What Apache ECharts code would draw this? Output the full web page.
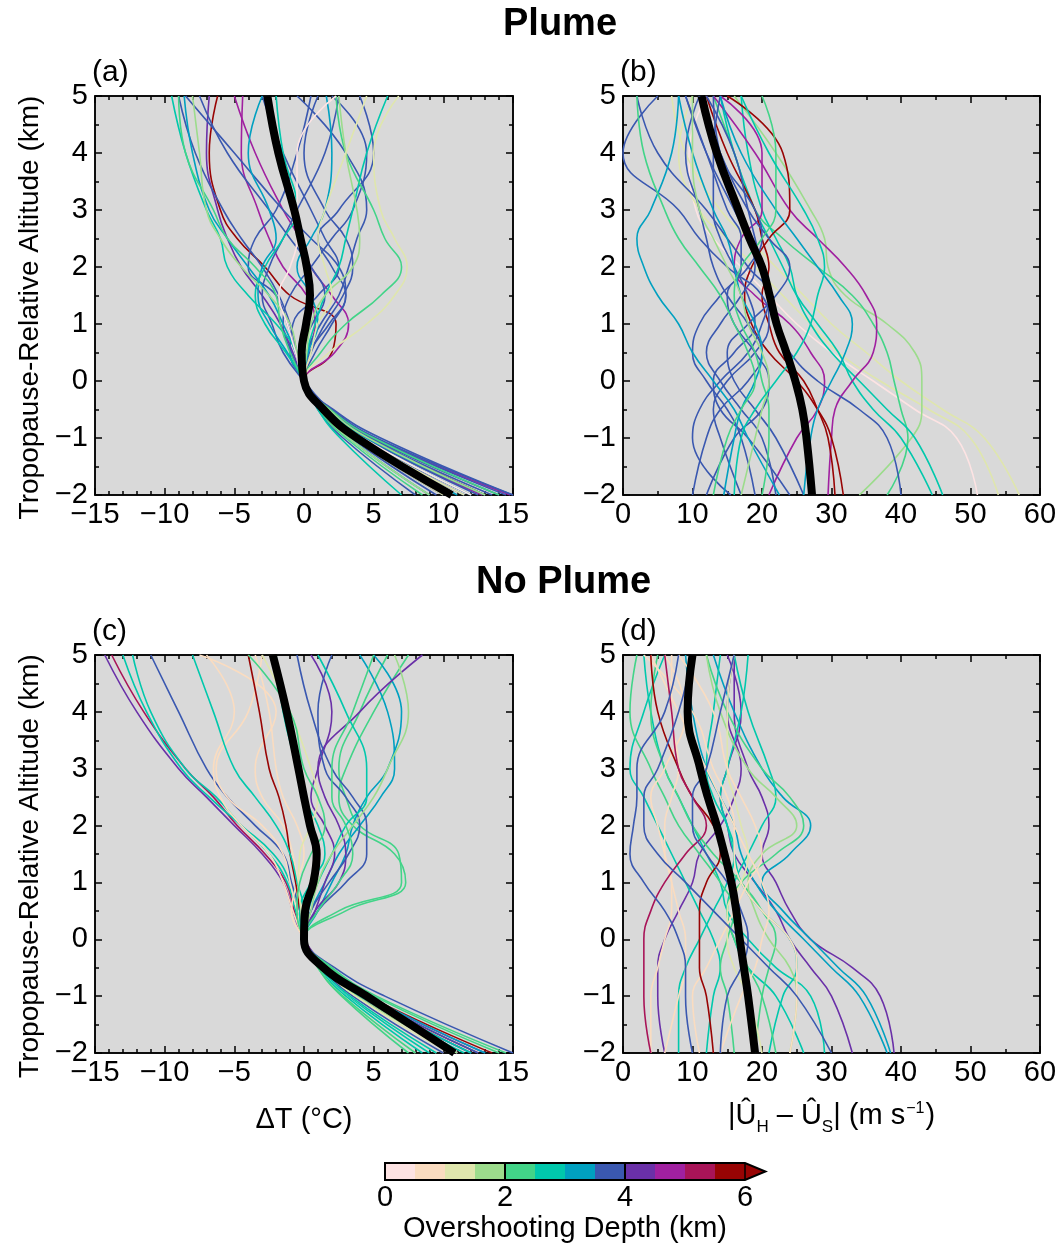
<!DOCTYPE html>
<html>
<head>
<meta charset="utf-8">
<script src="https://cdn.jsdelivr.net/npm/echarts@6/dist/echarts.min.js"></script>
<style>html,body{margin:0;padding:0;background:#fff}#c{width:1063px;height:1244px}</style>
</head>
<body>
<div id="c"></div>
<script>
// Tropopause-relative altitude levels (km) at which each profile is sampled
const LEVELS = [-2, -1, -0.5, 0, 0.5, 1, 1.5, 2, 2.5, 3, 4, 5];

// Overshooting depth colour bins (km)
const DEPTH_EDGES = [0, 0.5, 1, 1.5, 2, 2.5, 3, 3.5, 4, 4.5, 5, 5.5, 6];
const DEPTH_COLORS = ['#fde3e3', '#fadcc0', '#dfe6ad', '#9cdc8c', '#42d488', '#00c8ac',
                      '#00a0c0', '#3a58b0', '#6a30a8', '#a020a0', '#a81458', '#980404'];
const DEPTH_TICKS = [0, 2, 4, 6];

// (a) Plume, delta T
const PLUME_DT_MEAN = [10.6, 3.8, 1.4, 0, -0.17, 0.15, 0.43, 0.2, -0.25, -0.7, -1.84, -2.63];
const PLUME_DT_BIN = [11, 9, 9, 8, 7, 7, 7, 7, 7, 7, 7, 7, 7, 7, 6, 6, 6, 5, 5, 5, 4, 4, 3, 3, 2, 2, 0];
const PLUME_DT = [
  [13, 4.6, 1.6, 0, 2.0, 2.3, -1.0, -2.8, -4.8, -6.0, -6.8, -6.2],
  [12.8, 4.3, 1.7, 0, 2.2, 3.2, 2.0, 0.5, -0.3, -1.5, -3.5, -5.0],
  [14.8, 5.0, 1.9, 0, 0.3, 0.8, 0.2, -1.5, -2.5, -3.3, -4.5, -4.4],
  [12, 4.0, 1.5, 0, -0.8, -1.7, -3.0, -4.5, -5.5, -6.2, -7.0, -6.8],
  [15, 5.2, 2.0, 0, -0.5, -1.0, -1.8, -3.0, -4.5, -5.8, -7.8, -9.0],
  [14.5, 5.0, 1.9, 0, -1.5, -2.3, -3.0, -2.5, -1.5, -0.5, 1.5, 2.5],
  [14, 4.8, 1.8, 0, 0.5, 1.5, 2.8, 3.5, 3.0, 1.5, 0.0, 1.0],
  [13.5, 4.6, 1.7, 0, 0.8, 2.0, 3.0, 2.0, 1.0, 2.5, 5.0, 4.0],
  [11.5, 4.0, 1.5, 0, 0.2, 1.2, 2.5, 3.2, 3.8, 4.5, 3.0, -0.5],
  [9.5, 3.4, 1.2, 0, -0.6, -1.2, -2.0, -4.0, -3.5, -2.0, -0.5, 0.5],
  [8, 2.8, 1.0, 0, -1.0, -0.8, 1.0, 2.5, 1.5, 0.5, -1.5, -3.0],
  [15, 5.5, 2.1, 0, 0.4, 1.8, 3.0, 2.5, 0.5, -1.5, -5.0, -8.5],
  [12.5, 4.4, 1.6, 0, -0.3, 0.6, 1.5, 0.5, -1.0, -2.5, -5.5, -7.5],
  [10, 3.5, 1.3, 0, -0.9, -1.5, -1.0, 0.5, 2.0, 3.5, 4.5, 2.0],
  [9, 3.2, 1.2, 0, -1.2, -2.5, -3.3, -3.0, -2.0, -2.5, -4.0, -3.0],
  [13, 4.5, 1.7, 0, -0.6, -1.5, -2.5, -4.0, -5.5, -6.8, -8.0, -8.6],
  [11, 3.9, 1.4, 0, 0.3, 1.0, 0.5, -0.5, 0.5, 1.5, 2.0, 1.6],
  [7, 2.6, 1.0, 0, -1.3, -2.8, -3.5, -2.8, -1.5, -0.5, -1.5, -2.0],
  [12, 4.2, 1.6, 0, 0.2, 0.8, 1.5, 2.5, 3.0, 3.5, 4.5, 6.0],
  [10.5, 3.6, 1.3, 0, -0.5, -2.0, -4.0, -5.5, -6.0, -7.0, -8.5, -9.5],
  [14, 5.0, 1.9, 0, 1.2, 3.0, 5.5, 7.0, 5.8, 5.0, 3.0, 2.3],
  [8.5, 3.0, 1.1, 0, -1.0, -1.7, -2.0, -3.5, -5.5, -6.5, -8.5, -9.0],
  [13, 4.6, 1.8, 0, 0.2, 0.5, 1.5, 3.5, 4.0, 3.8, 3.0, 2.5],
  [9, 3.2, 1.2, 0, -0.5, -1.0, -2.5, -4.5, -6.0, -7.0, -7.5, -8.0],
  [11.5, 4.0, 1.5, 0, 1.8, 4.5, 6.5, 7.4, 6.5, 5.5, 5.0, 6.8],
  [10, 3.5, 1.3, 0, 0.5, 1.0, 2.0, 1.5, 1.0, 1.5, 3.0, 4.5],
  [12, 4.2, 1.5, 0, -0.6, -1.2, -1.8, -1.0, -0.5, -0.5, -0.5, 2.3]
];

// (b) Plume, wind shear magnitude
const PLUME_DU_MEAN = [27.2, 26.4, 25.8, 24.8, 23.5, 22.1, 21.1, 20.0, 18.2, 16.6, 13.5, 11.3];
const PLUME_DU_BIN = [0, 2, 2, 3, 4, 5, 5, 9, 9, 11, 11, 7, 7, 7, 7, 7, 7, 7, 7, 7, 6, 6, 6, 4, 4, 3, 5];
const PLUME_DU = [
  [51, 48, 42, 36, 30, 25, 21, 17, 13, 10.5, 9.5, 12],
  [54, 50, 44, 37, 31, 27, 23, 19, 15, 11, 8, 10],
  [57, 52, 46, 40, 35, 30, 26, 22, 18, 14, 9, 7],
  [34, 41.5, 43, 43, 42, 38, 32, 29.5, 29, 27, 22, 16],
  [38, 41, 40, 39, 38, 36, 33, 28, 23, 19, 16, 13],
  [44.5, 40, 36, 33, 31, 28, 25, 23, 21, 19, 16, 14],
  [46, 42, 38, 34, 30, 27, 25, 24, 22, 20, 18, 17],
  [29.5, 30, 30.5, 33, 36, 36.5, 35, 32, 28, 24, 19, 13],
  [21, 25, 28, 29, 27, 24, 19, 16, 17, 20, 20, 14],
  [31.7, 30, 28, 25, 21, 18.5, 17.5, 18.5, 21, 24, 23, 15],
  [30.5, 29.5, 28, 26, 22.5, 21, 20, 21, 20, 19, 15, 12],
  [10, 12, 14, 18, 20, 18, 15, 13, 12, 11, 9, 11],
  [15.5, 10, 11, 14, 18, 20, 21, 18, 15, 12, 5, 2],
  [19, 17, 15, 12, 10, 11, 14, 17, 17, 15, 12, 9],
  [26, 22, 19, 16, 15, 18, 22, 24, 21, 18, 14, 11],
  [40, 38, 34, 28, 24, 22, 21, 20, 19, 18, 16, 12],
  [24, 18, 14, 13, 16, 19, 18, 16, 14, 13, 13, 14],
  [12, 16, 20, 21, 19, 16, 15, 18, 20, 19, 14, 13],
  [17, 14, 13, 15, 19, 21, 20, 15, 11, 8, 0, 5],
  [22, 20, 17, 14, 12, 14, 17, 19, 18, 16, 12, 9],
  [22.5, 18, 16, 13, 10, 8, 5, 3, 2, 4, 7, 8],
  [26, 27, 28, 30, 32, 33, 31, 28, 25, 22, 17, 14],
  [14.5, 16, 17, 19, 20, 19, 17, 16, 15, 13, 10, 8],
  [13, 15, 17, 19, 18, 16, 14, 11, 8, 6, 3, 2],
  [20, 21, 21, 20, 19, 17, 16, 17, 20, 22, 22, 20],
  [17, 19, 20, 21, 20, 18, 17, 15, 13, 11, 10, 10],
  [16, 17, 19, 22, 25, 27, 28, 29, 28, 26, 21, 17]
];

// (c) No plume, delta T
const NOPLUME_DT_MEAN = [10.8, 4.5, 1.4, 0, 0.08, 0.67, 0.91, 0.43, 0.0, -0.4, -1.24, -2.24];
const NOPLUME_DT_BIN = [8, 10, 5, 5, 7, 1, 1, 1, 1, 11, 4, 4, 6, 6, 8, 8, 7, 7, 5, 5, 5, 3, 2, 4, 4];
const NOPLUME_DT = [
  [13, 4.5, 1.7, 0, -0.8, -1.5, -3.0, -5.0, -7.0, -9.0, -12.0, -14.3],
  [12.5, 4.3, 1.6, 0, -0.7, -1.3, -2.8, -4.8, -6.5, -8.5, -11.5, -13.8],
  [9, 3.2, 1.2, 0, -0.6, -1.2, -2.5, -4.5, -6.3, -8.5, -11.0, -12.3],
  [8.5, 3.0, 1.1, 0, -0.5, -1.0, -2.2, -4.5, -6.8, -8.8, -11.3, -13.0],
  [15, 5.8, 2.2, 0, -0.3, -0.9, -1.5, -3.5, -5.5, -7.0, -9.0, -11.0],
  [9.5, 3.3, 1.2, 0, -0.8, -1.5, -2.5, -4.5, -6.0, -6.5, -5.0, -7.0],
  [10, 3.5, 1.3, 0, -0.5, -1.0, -1.5, -3.0, -5.5, -6.3, -4.0, -3.0],
  [11, 3.8, 1.4, 0, -0.3, -0.5, -0.8, -1.5, -3.0, -3.5, -2.0, -7.5],
  [8, 2.8, 1.0, 0, -0.9, -0.5, 0.0, -0.5, -1.5, -2.0, -2.5, -3.5],
  [13.5, 4.6, 1.7, 0, -0.3, -0.6, -1.0, -1.3, -1.8, -2.5, -3.2, -4.0],
  [14.5, 5.2, 2.0, 0, 3.0, 7.3, 6.5, 3.5, 2.5, 3.0, 5.0, 7.5],
  [14, 5.0, 1.9, 0, 2.5, 7.0, 6.8, 4.0, 3.0, 2.5, 4.0, 6.0],
  [13, 4.6, 1.7, 0, 1.0, 2.0, 3.0, 3.5, 4.5, 6.0, 7.0, 5.0],
  [12, 4.2, 1.6, 0, 0.5, 1.5, 2.5, 4.0, 5.5, 6.5, 6.0, 4.0],
  [11, 3.9, 1.5, 0, 0.8, 2.5, 3.0, 2.5, 1.5, 1.0, 4.0, 8.5],
  [12, 4.2, 1.6, 0, 0.8, 1.5, 2.2, 1.5, 0.5, 1.0, 2.0, 0.5],
  [12.5, 4.4, 1.6, 0, 1.0, 3.0, 4.5, 4.5, 3.5, 2.0, 0.5, -0.5],
  [10, 3.5, 1.3, 0, 0.5, 1.8, 3.2, 4.0, 3.0, 1.5, 1.0, 2.0],
  [11.5, 4.0, 1.5, 0, 0.0, -0.5, -1.0, -2.0, -3.5, -5.0, -6.5, -8.0],
  [9.5, 3.3, 1.2, 0, -0.3, 0.5, 1.5, 1.0, 0.0, -0.5, -1.5, -2.0],
  [12, 4.2, 1.6, 0, 0.3, 1.0, 2.0, 3.0, 4.5, 4.5, 3.0, 1.0],
  [11, 3.8, 1.4, 0, 0.5, 1.0, 2.0, 3.5, 5.0, 6.0, 7.5, 6.5],
  [10.5, 3.7, 1.4, 0, -0.2, -0.4, -0.3, 0.5, 1.0, 0.5, -1.0, -3.0],
  [8, 2.8, 1.0, 0, -0.5, -0.3, 0.5, 1.5, 1.0, 0.0, -1.0, -4.0],
  [7.5, 2.7, 1.0, 0, 1.0, 2.5, 3.5, 3.0, 2.0, 2.0, 3.5, 5.0]
];

// (d) No plume, wind shear magnitude
const NOPLUME_DU_MEAN = [19.0, 18.0, 17.4, 16.8, 16.3, 15.6, 14.6, 13.5, 12.2, 11.1, 9.3, 10.0];
const NOPLUME_DU_BIN = [8, 8, 8, 6, 6, 5, 5, 5, 5, 5, 4, 4, 4, 3, 2, 1, 1, 1, 1, 1, 11, 10, 7, 7, 7];
const NOPLUME_DU = [
  [39, 37, 33, 27, 24, 22, 20, 21, 20, 18, 16, 16],
  [33, 30, 27, 24, 22, 19, 16, 15, 14, 15, 17, 15],
  [6, 5, 5, 6, 8, 10, 11, 14, 16, 17, 15, 16],
  [38.5, 35, 31, 27, 23, 20, 24, 27, 23, 20, 16, 13],
  [38, 34, 30, 26, 22, 19, 17, 16, 14, 12, 10, 9],
  [29, 27, 22, 18, 15, 14, 12, 10, 8, 6, 4, 3],
  [8, 8, 9, 11, 13, 15, 16, 15, 13, 12, 13, 14],
  [21, 23, 25, 24, 20, 17, 16, 15, 14, 15, 17, 18],
  [12, 13, 14, 13, 11, 9, 7, 5, 3, 1, 3, 6],
  [26, 22, 18, 16, 15, 16, 18, 20, 22, 21, 18, 16],
  [22, 20, 18, 16, 15, 17, 22, 26, 24, 20, 15, 12],
  [19, 20, 21, 22, 20, 17, 13, 10, 8, 6, 4, 5],
  [16, 15, 14, 15, 16, 14, 11, 8, 6, 4, 1, 2],
  [24, 25, 24, 21, 19, 18, 20, 25, 22, 18, 14, 12],
  [20, 18, 16, 15, 15, 17, 18, 17, 16, 15, 15, 16],
  [6, 8, 9, 9, 8, 7, 6, 5, 4, 6, 9, 6],
  [11, 10, 12, 14, 16, 18, 20, 19, 17, 15, 13, 8],
  [24, 25, 25, 24, 20, 17, 16, 16, 15, 13, 10, 3],
  [14, 17, 19, 20, 21, 20, 18, 16, 14, 12, 8, 4],
  [4, 4, 5, 6, 7, 7, 6, 6, 7, 8, 7, 7],
  [13, 12, 11, 11, 11, 12, 14, 13, 10, 8, 5, 4],
  [4, 3, 3, 3, 4, 6, 9, 12, 10, 8, 7, 6],
  [30, 25, 21, 17, 13, 9, 5, 3, 3, 5, 8, 10],
  [10, 9, 9, 8, 6, 3, 1, 1.5, 2, 2, 6, 8],
  [14, 15, 17, 18, 17, 15, 12, 10, 10, 12, 14, 16]
];

const FONT = 'Liberation Sans';
const FS = 29;
const minus = v => String(v).replace('-', '\u2212');

const panels = [
  {left: 95, top: 96, width: 418, height: 399, xmin: -15, xmax: 15, xint: 5, xminor: 5,
   mean: PLUME_DT_MEAN, prof: PLUME_DT, bins: PLUME_DT_BIN, label: '(a)', xname: null, yname: true},
  {left: 623, top: 96, width: 417, height: 399, xmin: 0, xmax: 60, xint: 10, xminor: 2,
   mean: PLUME_DU_MEAN, prof: PLUME_DU, bins: PLUME_DU_BIN, label: '(b)', xname: null, yname: false},
  {left: 95, top: 655, width: 418, height: 398, xmin: -15, xmax: 15, xint: 5, xminor: 5,
   mean: NOPLUME_DT_MEAN, prof: NOPLUME_DT, bins: NOPLUME_DT_BIN, label: '(c)', xname: 'dt', yname: true},
  {left: 623, top: 655, width: 417, height: 398, xmin: 0, xmax: 60, xint: 10, xminor: 2,
   mean: NOPLUME_DU_MEAN, prof: NOPLUME_DU, bins: NOPLUME_DU_BIN, label: '(d)', xname: 'du', yname: false}
];

const grids = [], xAxes = [], yAxes = [], series = [], graphics = [];
const tickCommon = {inside: true, length: 7, lineStyle: {color: '#000', width: 1.5}};
const minorCommon = {show: true, length: 4, lineStyle: {color: '#000', width: 1.5}};
const lineCommon = {show: true, onZero: false, lineStyle: {color: '#000', width: 1.5}};

panels.forEach((p, i) => {
  grids.push({left: p.left, top: p.top, width: p.width, height: p.height, show: true,
    backgroundColor: '#d9d9d9', borderColor: '#000', borderWidth: 1.5, containLabel: false});
  const xBase = {type: 'value', gridIndex: i, min: p.xmin, max: p.xmax, interval: p.xint,
    axisLine: lineCommon, splitLine: {show: false},
    axisTick: tickCommon, minorTick: Object.assign({splitNumber: p.xminor}, minorCommon)};
  const xb = Object.assign({}, xBase, {position: 'bottom',
    axisLabel: {show: true, color: '#000', fontFamily: FONT, fontSize: FS, margin: 5, formatter: minus}});
  if (p.xname === 'dt') {
    Object.assign(xb, {name: '\u0394T (\u00B0C)', nameLocation: 'middle', nameGap: 52,
      nameTextStyle: {color: '#000', fontFamily: FONT, fontSize: FS}});
  } else if (p.xname === 'du') {
    Object.assign(xb, {name: '{t||\u00DB}{s|H}{t| \u2013 \u00DB}{s|S}{t|| (m s}{p|\u22121}{t|)}',
      nameLocation: 'middle', nameGap: 48,
      nameTextStyle: {color: '#000', fontFamily: FONT, fontSize: FS,
        rich: {
          t: {fontFamily: FONT, fontSize: FS, color: '#000', verticalAlign: 'top', lineHeight: 34},
          s: {fontFamily: FONT, fontSize: 17, color: '#000', verticalAlign: 'top', lineHeight: 34, padding: [18, 0, 0, 0]},
          p: {fontFamily: FONT, fontSize: 16, color: '#000', verticalAlign: 'top', lineHeight: 34, padding: [0, 1, 0, 1]}
        }}});
  }
  xAxes.push(xb);
  xAxes.push(Object.assign({}, xBase, {position: 'top', axisLabel: {show: false}}));
  const yBase = {type: 'value', gridIndex: i, min: -2, max: 5, interval: 1,
    axisLine: lineCommon, splitLine: {show: false},
    axisTick: tickCommon, minorTick: Object.assign({splitNumber: 2}, minorCommon)};
  yAxes.push(Object.assign({}, yBase, {position: 'left',
    axisLabel: {show: true, color: '#000', fontFamily: FONT, fontSize: FS, margin: 7, formatter: minus}}));
  yAxes.push(Object.assign({}, yBase, {position: 'right', axisLabel: {show: false}}));

  p.prof.forEach((xs, k) => {
    series.push({type: 'line', xAxisIndex: 2 * i, yAxisIndex: 2 * i, smooth: 0.45,
      symbol: 'none', silent: true, animation: false, clip: true,
      lineStyle: {color: DEPTH_COLORS[p.bins[k]], width: 1.6},
      data: xs.map((x, j) => [x, LEVELS[j]])});
  });
  series.push({type: 'line', xAxisIndex: 2 * i, yAxisIndex: 2 * i, smooth: 0.45,
    symbol: 'none', silent: true, animation: false, clip: true, z: 5,
    lineStyle: {color: '#000', width: 8, cap: 'butt'},
    data: p.mean.map((x, j) => [x, LEVELS[j]])});

  graphics.push({type: 'text', left: p.left - 3, top: p.top - 38,
    style: {text: p.label, fontFamily: FONT, fontSize: 30, fill: '#000'}});
  if (p.yname) {
    graphics.push({type: 'text', x: 30, y: p.top + p.height / 2 + 12, rotation: Math.PI / 2,
      style: {text: 'Tropopause-Relative Altitude (km)', fontFamily: FONT, fontSize: 28, fill: '#000',
        align: 'center', verticalAlign: 'middle'}});
  }
});

// colour bar grid
const cbIdx = panels.length;
grids.push({left: 385, top: 1163, width: 360, height: 19, show: false});
xAxes.push({type: 'value', gridIndex: cbIdx, min: 0, max: 6, interval: 2,
  axisLine: {show: false}, axisTick: {show: false}, splitLine: {show: false},
  axisLabel: {show: true, color: '#000', fontFamily: FONT, fontSize: FS, margin: 3,
    formatter: v => DEPTH_TICKS.indexOf(v) >= 0 ? String(v) : ''},
  name: 'Overshooting Depth (km)', nameLocation: 'middle', nameGap: 34,
  nameTextStyle: {color: '#000', fontFamily: FONT, fontSize: FS}});
yAxes.push({type: 'value', gridIndex: cbIdx, min: 0, max: 1, show: false});
const cbX = xAxes.length - 1, cbY = yAxes.length - 1;

const binData = DEPTH_COLORS.map((c, k) => [DEPTH_EDGES[k], DEPTH_EDGES[k + 1], k]);
series.push({type: 'custom', coordinateSystem: 'cartesian2d', xAxisIndex: cbX, yAxisIndex: cbY,
  silent: true, animation: false, data: binData,
  renderItem: (params, api) => {
    const a = api.coord([api.value(0), 1]);
    const b = api.coord([api.value(1), 0]);
    return {type: 'rect', shape: {x: a[0], y: a[1], width: b[0] - a[0] + 0.5, height: b[1] - a[1]},
      style: {fill: DEPTH_COLORS[api.value(2)]}};
  }});
// extension triangle, outline and dividers
series.push({type: 'custom', coordinateSystem: 'cartesian2d', xAxisIndex: cbX, yAxisIndex: cbY,
  silent: true, animation: false, clip: false, z: 6, data: [[6, 6.34]],
  renderItem: (params, api) => {
    const p00 = api.coord([0, 0]), p60 = api.coord([6, 0]), p61 = api.coord([6, 1]), p01 = api.coord([0, 1]);
    const tip = api.coord([api.value(1), 0.5]);
    const children = [
      {type: 'polygon', shape: {points: [p60, tip, p61]}, style: {fill: DEPTH_COLORS[DEPTH_COLORS.length - 1]}},
      {type: 'polygon', shape: {points: [p00, p60, tip, p61, p01]}, style: {fill: 'none', stroke: '#000', lineWidth: 2}}
    ];
    DEPTH_TICKS.slice(1, -1).forEach(v => {
      const q0 = api.coord([v, 0]), q1 = api.coord([v, 1]);
      children.push({type: 'line', shape: {x1: q0[0], y1: q0[1], x2: q1[0], y2: q1[1]},
        style: {stroke: '#000', lineWidth: 2}});
    });
    children.push({type: 'line', shape: {x1: p60[0], y1: p60[1], x2: p61[0], y2: p61[1]},
      style: {stroke: '#000', lineWidth: 1.5}});
    return {type: 'group', children};
  }});

graphics.push({type: 'text', left: 503, top: 6, style: {text: 'Plume', fontFamily: FONT, fontWeight: 'bold', fontSize: 38, fill: '#000'}});
graphics.push({type: 'text', left: 476, top: 564, style: {text: 'No Plume', fontFamily: FONT, fontWeight: 'bold', fontSize: 38, fill: '#000'}});

const chart = echarts.init(document.getElementById('c'), null, {renderer: 'canvas'});
chart.setOption({
  animation: false,
  backgroundColor: '#fff',
  grid: grids,
  xAxis: xAxes,
  yAxis: yAxes,
  series: series,
  graphic: graphics
});
</script>
</body>
</html>
